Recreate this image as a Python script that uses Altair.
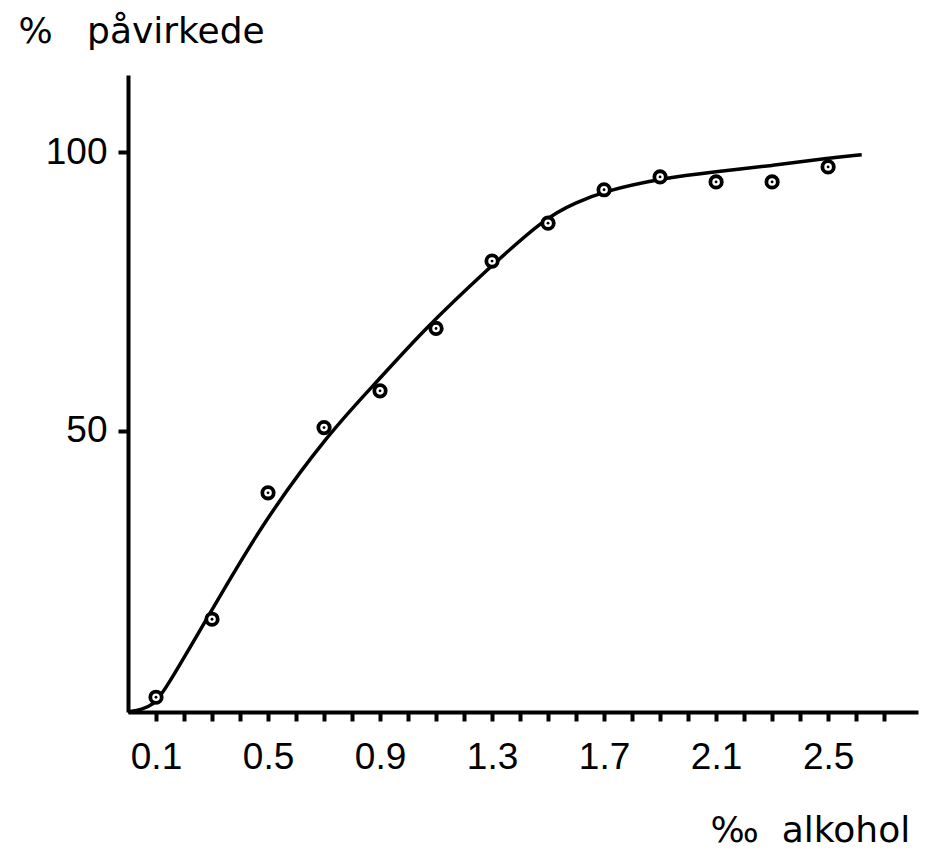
import altair as alt
import pandas as pd

# observed points (‰ alcohol, % affected)
alcohol = [0.1, 0.3, 0.5, 0.7, 0.9, 1.1, 1.3, 1.5, 1.7, 1.9, 2.1, 2.3, 2.5]
affected = [2.2, 16.2, 38.9, 50.6, 57.2, 68.4, 80.5, 87.3, 93.3, 95.6, 94.7, 94.7, 97.4]

# fitted curve
curve_x = [0.0, 0.05, 0.09, 0.125, 0.3, 0.477, 0.716, 0.898, 1.055, 1.281, 1.495, 1.6, 1.698, 1.9, 2.1, 2.3, 2.5, 2.62]
curve_y = [-0.45, 0.0, 0.9, 2.8, 17.9, 33.2, 49.6, 59.3, 68.1, 78.9, 88.5, 91.0, 93.0, 95.3, 96.6, 97.6, 99.0, 99.6]

x_ticks = [0.1, 0.2, 0.3, 0.4, 0.5, 0.6, 0.7, 0.8, 0.9, 1.0, 1.1, 1.2, 1.3, 1.4,
           1.5, 1.6, 1.7, 1.8, 1.9, 2.0, 2.1, 2.2, 2.3, 2.4, 2.5, 2.6, 2.7]
x_labels = ["0.1", "0.5", "0.9", "1.3", "1.7", "2.1", "2.5"]
y_ticks = [50, 100]

pts = pd.DataFrame({"x": alcohol, "y": affected})
crv = pd.DataFrame({"x": curve_x, "y": curve_y})

label_list = "[" + ",".join("'" + s + "'" for s in x_labels) + "]"

x_axis = alt.Axis(
    values=x_ticks, format=".1f",
    labelExpr=f"indexof({label_list}, datum.label) >= 0 ? datum.label : ''",
    tickSize=9, tickWidth=4, tickColor="black",
    domainWidth=4, domainColor="black",
    labelFont="Liberation Sans", labelFontSize=37, labelColor="black",
    labelPadding=47, labelBaseline="alphabetic", labelFlush=False, labelOverlap=False,
    grid=False,
    title="‰\u00a0\u00a0alkohol", titleFont="DejaVu Sans", titleFontSize=36,
    titleFontWeight="normal", titleColor="black", titleAlign="left",
    titleBaseline="alphabetic", titleX=582, titleY=129,
)
y_axis = alt.Axis(
    values=y_ticks, format="d",
    tickSize=10, tickWidth=4, tickColor="black",
    domainWidth=4, domainColor="black",
    labelFont="Liberation Sans", labelFontSize=37, labelColor="black",
    labelPadding=11, grid=False,
    title="%\u00a0\u00a0\u00a0påvirkede", titleFont="DejaVu Sans", titleFontSize=36,
    titleFontWeight="normal", titleColor="black", titleAngle=0, titleAlign="left",
    titleBaseline="alphabetic", titleX=-110, titleY=-33,
)

xs = alt.Scale(domain=[0, 2.821], nice=False, zero=False)
ys = alt.Scale(domain=[-0.45, 113.9], nice=False, zero=False)

line = alt.Chart(crv).mark_line(color="black", strokeWidth=3.5, interpolate="basis").encode(
    x=alt.X("x:Q", scale=xs, axis=x_axis),
    y=alt.Y("y:Q", scale=ys, axis=y_axis),
)
rings = alt.Chart(pts).mark_point(shape="circle", filled=False, color="black", size=130,
                                  strokeWidth=3.8, opacity=1, fill="white", fillOpacity=1).encode(
    x=alt.X("x:Q", scale=xs, axis=x_axis),
    y=alt.Y("y:Q", scale=ys, axis=y_axis),
)
dots = alt.Chart(pts).mark_point(shape="circle", filled=True, color="black", size=8, opacity=1).encode(
    x=alt.X("x:Q", scale=xs, axis=x_axis),
    y=alt.Y("y:Q", scale=ys, axis=y_axis),
)

chart = alt.layer(line, rings, dots).properties(
    width=790, height=637,
    padding={"left": 120, "top": 67, "right": 10, "bottom": 137},
    autosize=alt.AutoSizeParams(type="none"),
    background="white",
).configure_view(stroke=None)

chart.save("out.html", embed_options={"renderer": "svg", "actions": False})
